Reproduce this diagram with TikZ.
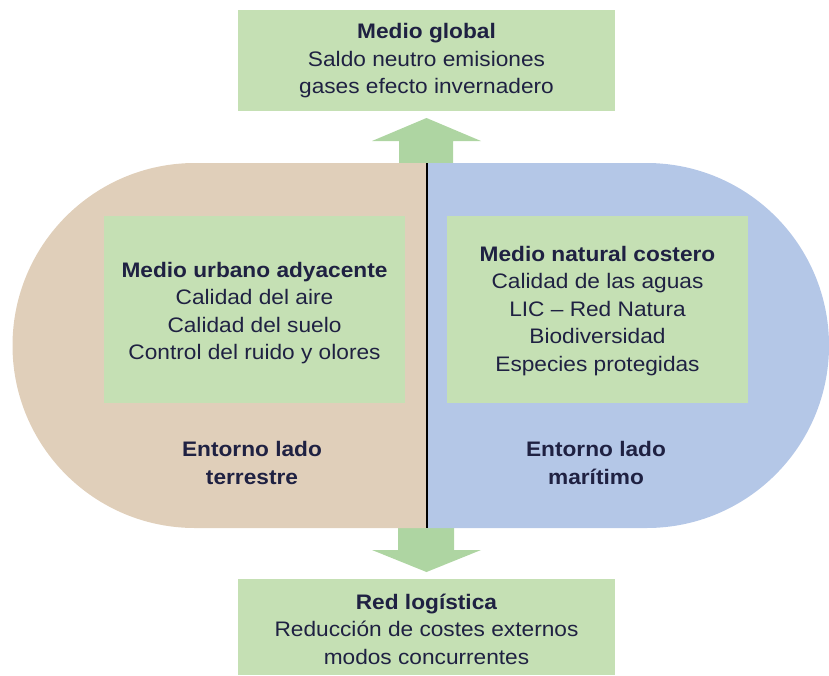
\documentclass[tikz,border=0pt]{standalone}
\usepackage{fontspec}
\setmainfont{Liberation Sans}[FakeStretch=1.08]
\definecolor{tanfill}{HTML}{E0CFBA}
\definecolor{bluefill}{HTML}{B4C7E7}
\definecolor{boxgreen}{HTML}{C5E0B4}
\definecolor{arrowgreen}{HTML}{AED5A2}
\definecolor{navytext}{HTML}{1F2142}
\begin{document}
\begin{tikzpicture}[x=1pt,y=-1pt,
  greenbox/.style={fill=boxgreen,draw=none,rectangle,inner sep=0pt},
  boxtext/.style={align=center,text=navytext,font=\fontsize{21}{27.5}\selectfont,inner sep=0pt},
  blockarrow/.style={fill=arrowgreen,draw=none}]
\useasboundingbox (0,0) rectangle (829,675);
% block arrows
\fill[blockarrow] (399,165) -- (399,141) -- (372,141) -- (426.5,118) -- (481,141) -- (453,141) -- (453,165) -- cycle;
\fill[blockarrow] (398,526) -- (398,550) -- (372,550) -- (426.5,572) -- (481,550) -- (454,550) -- (454,526) -- cycle;
% capsule halves
\fill[tanfill] (427,163) -- (195,163) arc[start angle=270,end angle=90,radius=182.5] -- (427,528) -- cycle;
\fill[bluefill] (427,163) -- (646.5,163) arc[start angle=270,end angle=450,radius=182.5] -- (427,528) -- cycle;
\draw[line width=1.1pt,black] (427,163) -- (427,528);
% boxes
\node[greenbox,minimum width=377,minimum height=101] (global) at (426.5,60.5) {};
\node[greenbox,minimum width=377,minimum height=96] (red) at (426.5,627) {};
\node[greenbox,minimum width=301,minimum height=187] (urbano) at (254.5,309.5) {};
\node[greenbox,minimum width=301,minimum height=187] (natural) at (597.5,309.5) {};
% texts
\node[boxtext] (tglobal) at (426.5,61) {\textbf{Medio global}\\Saldo neutro emisiones\\gases efecto invernadero};
\node[boxtext] (tred) at (426.5,629) {\textbf{Red logística}\\Reducción de costes externos\\modos concurrentes};
\node[boxtext] (turbano) at (254.5,313) {\textbf{Medio urbano adyacente}\\Calidad del aire\\Calidad del suelo\\Control del ruido y olores};
\node[boxtext] (tnatural) at (597.5,311) {\textbf{Medio natural costero}\\Calidad de las aguas\\LIC – Red Natura\\Biodiversidad\\Especies protegidas};
\node[boxtext] (tterr) at (252,463) {\textbf{Entorno lado}\\\textbf{terrestre}};
\node[boxtext] (tmar) at (596,463) {\textbf{Entorno lado}\\\textbf{marítimo}};
\end{tikzpicture}
\end{document}
